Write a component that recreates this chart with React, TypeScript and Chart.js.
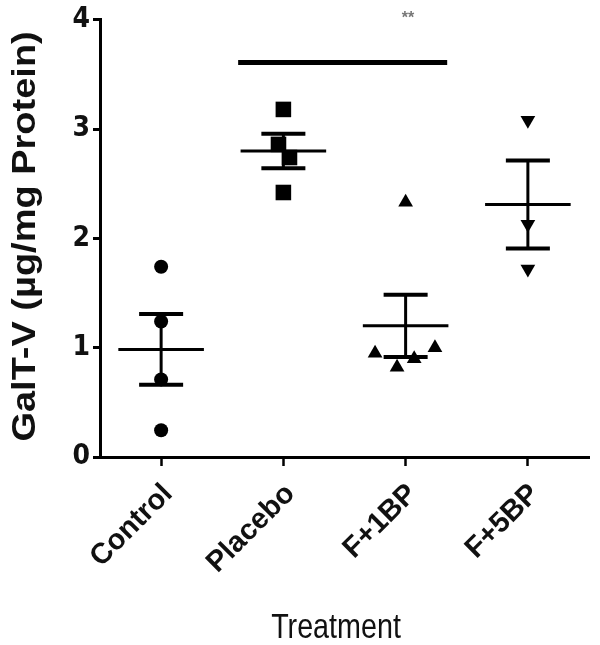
import React, { useEffect, useRef } from 'react';
import { Chart, registerables } from 'chart.js';
Chart.register(...registerables);

// ---- data ----
const categories = ['Control', 'Placebo', 'F+1BP', 'F+5BP'];
const yTickValues = [0, 1, 2, 3, 4];
const xTitle = 'Treatment';
const yTitle = 'GalT-V (\u00b5g/mg Protein)';

const controlValues = [1.74, 1.24, 0.71, 0.245];
const controlJitter = [0, 0, 0, 0];
const placeboValues = [3.18, 2.86, 2.74, 2.42];
const placeboJitter = [0, -0.04, 0.05, 0];
const f1bpValues = [2.33, 0.95, 0.82, 0.9, 1.0];
const f1bpJitter = [0, -0.25, -0.07, 0.07, 0.24];
const f5bpValues = [3.08, 2.13, 1.72];
const f5bpJitter = [0, 0, 0];

const sigRange = [0.63, 2.34];
const sigLevel = 3.61;
const sigLabel = '**';
const sigLabelPos = [2.02, 4.0];

const groups = [controlValues, placeboValues, f1bpValues, f5bpValues];
const jitters = [controlJitter, placeboJitter, f1bpJitter, f5bpJitter];
const markerStyles = ['circle', 'rect', 'triangle', 'triangle'];
const markerRot = [0, 0, 0, 180];
const markerRadius = [7, 11, 8.5, 8.5];

const CONDENSED = '"DejaVu Sans Condensed", "Liberation Sans Narrow", sans-serif';
const WIDE = '"Liberation Sans", Arial, sans-serif';

const meanSemPlugin = {
  id: 'meanSem',
  afterDatasetsDraw(chart: any) {
    const { ctx, scales } = chart;
    const x = scales.x;
    const y = scales.y;
    const unit = x.getPixelForValue(1) - x.getPixelForValue(0);
    ctx.save();
    ctx.strokeStyle = '#000';
    ctx.lineCap = 'butt';
    groups.forEach((vals, i) => {
      const n = vals.length;
      const m = vals.reduce((a, b) => a + b, 0) / n;
      const sd = Math.sqrt(vals.reduce((a, b) => a + (b - m) * (b - m), 0) / (n - 1));
      const sem = sd / Math.sqrt(n);
      const cx = x.getPixelForValue(i);
      const halfMean = unit * 0.35;
      const halfCap = unit * 0.18;
      const yM = y.getPixelForValue(m);
      const yT = y.getPixelForValue(m + sem);
      const yB = y.getPixelForValue(m - sem);
      ctx.lineWidth = 3;
      ctx.beginPath();
      ctx.moveTo(cx - halfMean, yM);
      ctx.lineTo(cx + halfMean, yM);
      ctx.stroke();
      ctx.beginPath();
      ctx.moveTo(cx, yT);
      ctx.lineTo(cx, yB);
      ctx.stroke();
      ctx.lineWidth = 4;
      ctx.beginPath();
      ctx.moveTo(cx - halfCap, yT);
      ctx.lineTo(cx + halfCap, yT);
      ctx.moveTo(cx - halfCap, yB);
      ctx.lineTo(cx + halfCap, yB);
      ctx.stroke();
    });
    // significance bar
    ctx.lineWidth = 5;
    ctx.beginPath();
    ctx.moveTo(x.getPixelForValue(sigRange[0]), y.getPixelForValue(sigLevel));
    ctx.lineTo(x.getPixelForValue(sigRange[1]), y.getPixelForValue(sigLevel));
    ctx.stroke();
    ctx.fillStyle = '#777';
    ctx.font = 'bold 16px ' + WIDE;
    ctx.textAlign = 'center';
    ctx.textBaseline = 'middle';
    ctx.fillText(sigLabel, x.getPixelForValue(sigLabelPos[0]), y.getPixelForValue(sigLabelPos[1]) - 1);
    ctx.restore();
  },
  afterDraw(chart: any) {
    const { ctx, chartArea } = chart;
    ctx.save();
    ctx.fillStyle = '#111';
    ctx.textAlign = 'center';
    ctx.textBaseline = 'alphabetic';
    // x title, horizontally condensed
    ctx.save();
    ctx.translate(336, 638);
    ctx.scale(0.82, 1);
    ctx.font = '35px ' + WIDE;
    ctx.fillText(xTitle, 0, 0);
    ctx.restore();
    // y title, rotated and condensed across
    ctx.save();
    ctx.translate(35, (chartArea.top + chartArea.bottom) / 2 - 2);
    ctx.rotate(-Math.PI / 2);
    ctx.scale(1, 0.85);
    ctx.font = 'bold 38px ' + WIDE;
    ctx.fillText(yTitle, 0, 0);
    ctx.restore();
    ctx.restore();
  },
};

export default function App() {
  const ref = useRef<HTMLCanvasElement | null>(null);
  useEffect(() => {
    if (!ref.current) return;
    const datasets = groups.map((vals, i) => ({
      label: categories[i],
      data: vals.map((v, k) => ({ x: i + jitters[i][k], y: v })),
      pointStyle: markerStyles[i],
      rotation: markerRot[i],
      pointRadius: markerRadius[i],
      backgroundColor: '#000',
      borderColor: '#000',
      borderWidth: 0,
      showLine: false,
      clip: false as any,
    }));
    const chart = new Chart(ref.current, {
      type: 'scatter',
      data: { datasets },
      options: {
        responsive: false,
        animation: false,
        devicePixelRatio: 1,
        layout: { padding: { top: 16, right: 4, left: 0, bottom: 0 } },
        plugins: { legend: { display: false }, tooltip: { enabled: false } },
        scales: {
          x: {
            type: 'linear',
            min: -0.5,
            max: 3.5,
            afterBuildTicks: (s: any) => {
              s.ticks = categories.map((_, i) => ({ value: i }));
            },
            afterFit: (s: any) => {
              s.height = 188;
            },
            ticks: {
              autoSkip: false,
              minRotation: 45,
              maxRotation: 45,
              color: '#111',
              padding: 11,
              labelOffset: 7,
              font: { family: WIDE, size: 29, weight: 'bold' },
              callback: (v: any) => categories[v] ?? '',
            },
            grid: { drawOnChartArea: false, drawTicks: true, tickLength: 9, tickWidth: 2.5, color: '#000' },
            border: { display: true, width: 3, color: '#000' },
            title: { display: false },
          },
          y: {
            min: 0,
            max: 4,
            afterBuildTicks: (s: any) => {
              s.ticks = yTickValues.map((v) => ({ value: v }));
            },
            afterFit: (s: any) => {
              s.width = 100;
            },
            ticks: {
              color: '#111',
              padding: 3,
              font: { family: CONDENSED, size: 28, weight: 'bold' },
            },
            grid: { drawOnChartArea: false, drawTicks: true, tickLength: 7, tickWidth: 3, color: '#000' },
            border: { display: true, width: 3, color: '#000' },
            title: { display: false },
          },
        },
      },
      plugins: [meanSemPlugin],
    } as any);
    return () => chart.destroy();
  }, []);
  return (
    <div style={{ position: 'absolute', left: 0, top: 0, width: 600, height: 645, background: '#fff' }}>
      <canvas ref={ref} width={600} height={645} style={{ width: 600, height: 645, display: 'block' }} />
    </div>
  );
}
